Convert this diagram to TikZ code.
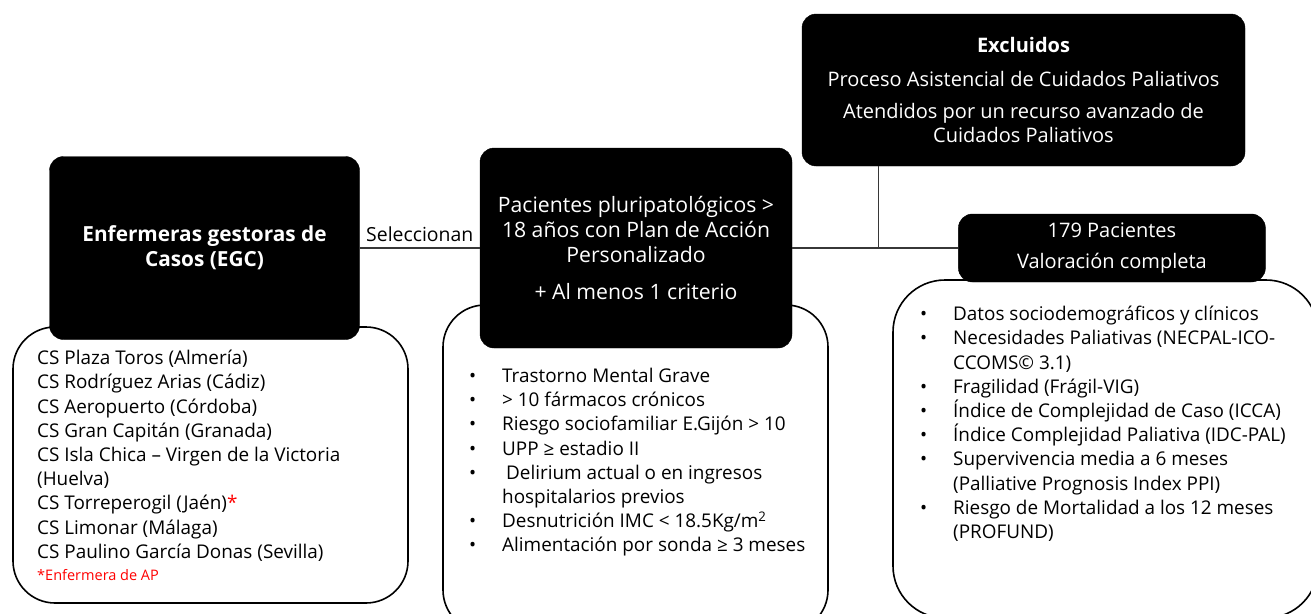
\documentclass[tikz,border=0pt]{standalone}
\usepackage{fontspec}
\setmainfont{Open Sans}
\usepackage{tikz}
\usetikzlibrary{positioning}
\definecolor{linegray}{RGB}{55,55,55}
\definecolor{notered}{RGB}{255,0,0}
\tikzstyle{blackbox} = [rectangle, rounded corners=14pt, draw=black, fill=black, text=white, align=center, font=\fontsize{20}{23.5}\selectfont]
\tikzstyle{roundlist} = [rectangle, rounded corners=42pt, draw=black, line width=1.6pt, fill=white]
\tikzstyle{listtxt} = [anchor=north west, align=left, inner sep=0pt, font=\fontsize{18.9}{24.2}\selectfont]
\tikzstyle{link} = [draw=linegray, line width=1.3pt]
\newcommand{\bul}{\makebox[33pt][l]{\textbullet}}
\newcommand{\cont}{\hspace*{33pt}}

\begin{document}
\begin{tikzpicture}[x=1pt,y=1pt]
\clip (0,0) rectangle (1311,-613);
% white lists behind the black boxes
\node (lstegc) [roundlist, minimum width=395pt, minimum height=276pt] at (210.5,-465) {};
\node (lstpaci) [roundlist, minimum width=385pt, minimum height=327pt] at (635.5,-468.5) {};
\node (lstval) [roundlist, rounded corners=52pt, minimum width=425pt, minimum height=338pt] at (1105.5,-449) {};
% black boxes
\node (egc) [blackbox, minimum width=310pt, minimum height=183pt, font=\bfseries\fontsize{20.8}{25}\selectfont] at (204.5,-248) {Enfermeras gestoras de\\Casos (EGC)};
\node (paci) [blackbox, minimum width=312pt, minimum height=200pt, font=\fontsize{21.2}{25}\selectfont] at (636,-248) {Pacientes pluripatológicos >\\18 años con Plan de Acción\\Personalizado\\[12pt]+ Al menos 1 criterio};
\node (excl) [blackbox, minimum width=443pt, minimum height=152pt] at (1023.5,-90) {\textbf{Excluidos}\\[10pt]Proceso Asistencial de Cuidados Paliativos\\[9pt]Atendidos por un recurso avanzado de\\Cuidados Paliativos};
\node (pac179) [blackbox, minimum width=307pt, minimum height=68pt, right=166pt of paci] {179 Pacientes\\[8pt]Valoración completa};
% list texts
\node (egctxt) [listtxt] at (37,-350) {CS Plaza Toros (Almería)\\
CS Rodríguez Arias (Cádiz)\\
CS Aeropuerto (Córdoba)\\
CS Gran Capitán (Granada)\\
CS Isla Chica – Virgen de la Victoria\\
(Huelva)\\
CS Torreperogil (Jaén){\color{notered}*}\\
CS Limonar (Málaga)\\
CS Paulino García Donas (Sevilla)\\[-2pt]
{\color{notered}\fontsize{14.5}{18}\selectfont *Enfermera de AP}};
\node (pacitxt) [listtxt] at (469,-368) {\bul Trastorno Mental Grave\\
\bul > 10 fármacos crónicos\\
\bul Riesgo sociofamiliar E.Gijón > 10\\
\bul UPP ≥ estadio II\\
\bul\hspace{4pt}Delirium actual o en ingresos\\
\cont hospitalarios previos\\
\bul Desnutrición IMC < 18.5Kg/m\textsuperscript{2}\\
\bul Alimentación por sonda ≥ 3 meses};
\node (valtxt) [listtxt] at (920,-306) {\bul Datos sociodemográficos y clínicos\\
\bul Necesidades Paliativas (NECPAL-ICO-\\
\cont CCOMS© 3.1)\\
\bul Fragilidad (Frágil-VIG)\\
\bul Índice de Complejidad de Caso (ICCA)\\
\bul Índice Complejidad Paliativa (IDC-PAL)\\
\bul Supervivencia media a 6 meses\\
\cont (Palliative Prognosis Index PPI)\\
\bul Riesgo de Mortalidad a los 12 meses\\
\cont (PROFUND)};
% connectors
\draw[link] (egc.east) -- node[above=2pt, font=\fontsize{19.4}{24}\selectfont] {Seleccionan} (paci.west);
\draw[link] (paci.east) -- (pac179.west);
\coordinate (exclfoot) at ([xshift=77pt]excl.south west);
\draw[link] (exclfoot) -- (exclfoot |- pac179.west);
\end{tikzpicture}
\end{document}
